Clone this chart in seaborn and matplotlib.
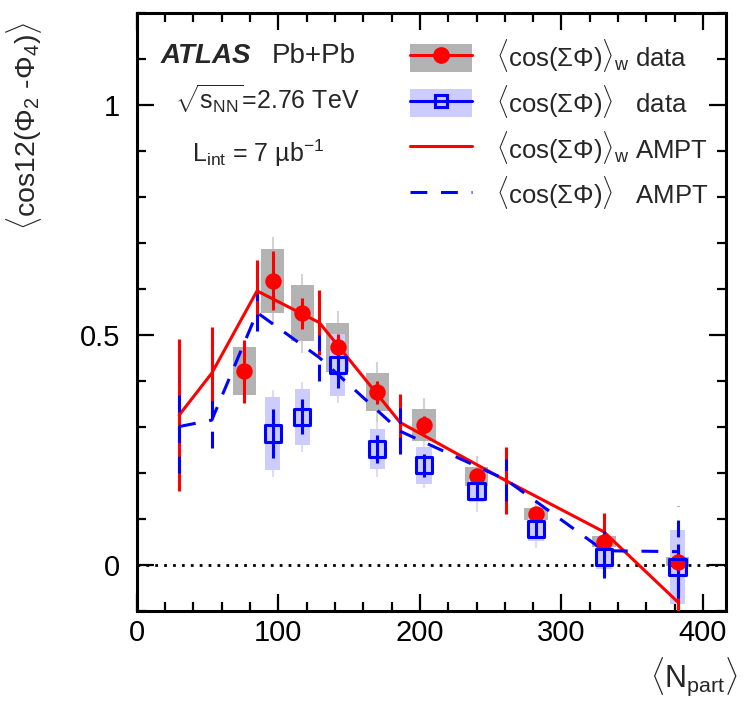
import matplotlib
matplotlib.use('Agg')
import matplotlib.pyplot as plt
import seaborn as sb
import numpy as np
from matplotlib.patches import Patch
from matplotlib.lines import Line2D
from matplotlib.ticker import MultipleLocator

# ATLAS data, 5% centrality bins
npart_w = [76, 96, 117, 142, 170, 203, 240, 282, 330, 382]
cos_w = [0.420, 0.617, 0.546, 0.472, 0.375, 0.303, 0.192, 0.110, 0.050, 0.006]
stat_w = [0.069, 0.064, 0.033, 0.030, 0.025, 0.020, 0.015, 0.012, 0.010, 0.010]
sys_w = [0.052, 0.070, 0.061, 0.053, 0.041, 0.035, 0.021, 0.013, 0.012, 0.010]
tot_w = [0.065, 0.096, 0.086, 0.079, 0.066, 0.059, 0.044, 0.030, 0.025, 0.020]

npart_u = [96, 117, 142, 170, 203, 240, 282, 330, 382]
cos_u = [0.285, 0.321, 0.434, 0.251, 0.216, 0.160, 0.077, 0.016, -0.006]
stat_u = [0.053, 0.038, 0.050, 0.030, 0.025, 0.020, 0.015, 0.040, 0.050]
sys_u = [0.079, 0.061, 0.067, 0.044, 0.040, 0.025, 0.025, 0.026, 0.080]
tot_u = [0.095, 0.076, 0.083, 0.060, 0.050, 0.045, 0.040, 0.040, 0.090]

# AMPT, 10% centrality bins
npart_ampt = [30, 53, 85, 129, 186, 261, 330, 382]
ampt_w = [0.325, 0.416, 0.595, 0.526, 0.309, 0.182, 0.071, -0.081]
ampt_w_err = [0.165, 0.100, 0.067, 0.070, 0.062, 0.073, 0.042, 0.100]
ampt_u = [0.300, 0.314, 0.548, 0.450, 0.290, 0.184, 0.030, 0.028]
ampt_u_err = [0.100, 0.060, 0.040, 0.050, 0.050, 0.045, 0.060, 0.100]

labels = [r'$\langle\cos(\Sigma\Phi)\rangle_{\mathrm{w}}$ data',
          r'$\langle\cos(\Sigma\Phi)\rangle$   data',
          r'$\langle\cos(\Sigma\Phi)\rangle_{\mathrm{w}}$ AMPT',
          r'$\langle\cos(\Sigma\Phi)\rangle$   AMPT']

sb.set_style('ticks')
plt.rcParams['font.family'] = ['Liberation Sans', 'DejaVu Sans']
plt.rcParams['mathtext.fontset'] = 'custom'
plt.rcParams['mathtext.rm'] = 'Liberation Sans'
plt.rcParams['mathtext.it'] = 'Liberation Sans:italic'
plt.rcParams['mathtext.bf'] = 'Liberation Sans:bold'

GRAY = '#b3b3b3'
LBLUE = '#ccccff'
DASH = (0, (5.5, 4.5))

fig = plt.figure(figsize=(7.45, 7.04), dpi=100)
ax = fig.add_axes([0.1835, 0.1328, 0.7906, 0.8492])

def arr(v):
    return np.asarray(v, dtype=float)

# weighted data: total line, sys box, stat bar, marker
ax.vlines(npart_w, arr(cos_w) - arr(tot_w), arr(cos_w) + arr(tot_w), color='#d3d3d3', lw=1.5, zorder=1)
ax.bar(npart_w, 2 * arr(sys_w), bottom=arr(cos_w) - arr(sys_w), width=16.5, color=GRAY, lw=0, zorder=1.5)
# unweighted data
ax.vlines(npart_u, arr(cos_u) - arr(tot_u), arr(cos_u) + arr(tot_u), color='#dcdcf5', lw=1.5, zorder=1)
ax.bar(npart_u, 2 * arr(sys_u), bottom=arr(cos_u) - arr(sys_u), width=10.8, color=LBLUE, lw=0, zorder=1.6)

# AMPT curves
sb.lineplot(x=npart_ampt, y=ampt_w, color='red', lw=2.2, ax=ax, zorder=3)
sb.lineplot(x=npart_ampt, y=ampt_u, color='blue', lw=2.2, linestyle=DASH, ax=ax, zorder=3.2)
ax.vlines(npart_ampt, arr(ampt_w) - arr(ampt_w_err), arr(ampt_w) + arr(ampt_w_err), color='red', lw=2.2, zorder=3)
ax.vlines(npart_ampt, arr(ampt_u) - arr(ampt_u_err), arr(ampt_u) + arr(ampt_u_err), color='blue', lw=2.2,
          linestyles=[DASH], zorder=3.2)

ax.vlines(npart_w, arr(cos_w) - arr(stat_w), arr(cos_w) + arr(stat_w), color='red', lw=2.2, zorder=4)
ax.vlines(npart_u, arr(cos_u) - arr(stat_u), arr(cos_u) + arr(stat_u), color='blue', lw=2.2, zorder=4)
sb.scatterplot(x=npart_w, y=cos_w, marker='o', s=140, color='red', edgecolor='red', lw=0, ax=ax, zorder=5)
sb.scatterplot(x=npart_u, y=cos_u, marker='s', s=135, facecolor='none', edgecolor='blue', lw=2.2, ax=ax, zorder=5)

ax.axhline(0, color='black', ls=(0, (1, 2.2)), lw=2, zorder=2)

ax.set_xlim(0, 416)
ax.set_ylim(-0.1, 1.2)
ax.xaxis.set_major_locator(MultipleLocator(100))
ax.xaxis.set_minor_locator(MultipleLocator(20))
ax.yaxis.set_major_locator(MultipleLocator(0.5))
ax.yaxis.set_minor_locator(MultipleLocator(0.1))
ax.set_xticks([0, 100, 200, 300, 400])
ax.set_xticklabels(['0', '100', '200', '300', '400'])
ax.set_yticks([0, 0.5, 1])
ax.set_yticklabels(['0', '0.5', '1'])
ax.tick_params(which='both', direction='in', top=True, right=True, width=1.6, colors='black', labelsize=21)
ax.tick_params(which='major', length=12)
ax.tick_params(which='minor', length=6.5)
ax.tick_params(axis='y', pad=12)
ax.tick_params(axis='x', pad=6)
for s in ax.spines.values():
    s.set_linewidth(2.2)
    s.set_color('black')

ax.set_ylabel(r'$\langle$cos12($\Phi_{2}$ -$\Phi_{4}$)$\rangle$', fontsize=20.5, loc='top')
ax.yaxis.set_label_coords(-0.157, 0.985)
ax.set_xlabel(r'$\langle$N$_{\mathrm{part}}$$\rangle$', fontsize=22, loc='right')
ax.xaxis.set_label_coords(1.02, -0.075)

ax.text(0.04, 0.916, 'ATLAS', transform=ax.transAxes, fontsize=20, fontweight='bold', fontstyle='italic', va='baseline')
ax.text(0.2295, 0.916, 'Pb+Pb', transform=ax.transAxes, fontsize=20, va='baseline')
ax.text(0.065, 0.838, r'$\sqrt{\mathrm{s}_{\mathrm{NN}}}$=2.76 TeV', transform=ax.transAxes, fontsize=18, va='baseline')
ax.text(0.094, 0.75, 'L$_{\\mathrm{int}}$ = 7 \u00b5b$^{\\mathrm{-1}}$', transform=ax.transAxes, fontsize=18, va='baseline')

handles = [
    (Patch(facecolor=GRAY, lw=0), Line2D([], [], color='red', lw=2.2, marker='o', ms=11)),
    (Patch(facecolor=LBLUE, lw=0), Line2D([], [], color='blue', lw=2.2, marker='s', ms=9, mfc='none', mew=2.2)),
    Line2D([], [], color='red', lw=2.2),
    Line2D([], [], color='blue', lw=2.2, ls=DASH),
]
ax.legend(handles, labels, loc='upper left', bbox_to_anchor=(0.464, 0.959), frameon=False, fontsize=18.5,
          handlelength=2.4, handleheight=1.3, handletextpad=0.95, labelspacing=0.34, borderpad=0,
          borderaxespad=0)

fig.savefig('out.png', dpi=100)
